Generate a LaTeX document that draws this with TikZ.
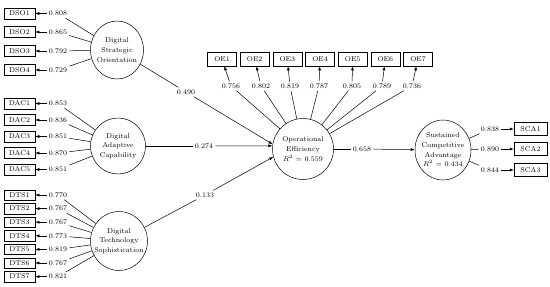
\documentclass[tikz,border=0pt]{standalone}
\usetikzlibrary{shapes.geometric,arrows.meta}
\begin{document}
\begin{tikzpicture}[x=1pt,y=-1pt,font=\fontsize{7}{9.7}\selectfont,line width=0.5pt,
  ind/.style={draw,minimum width=31pt,minimum height=11pt,inner sep=0pt},
  lv/.style={draw,ellipse,inner sep=0pt},
  ld/.style={inner sep=2pt},
  arr/.style={-{Latex[length=4pt,width=3pt]}}]
\useasboundingbox (0,0) rectangle (550,287);

% latent variables
\node[lv,minimum width=53pt,minimum height=58pt,label={[align=center]center:Digital\\Strategic\\Orientation}] (DSO) at (117,50) {};
\node[lv,minimum width=55pt,minimum height=56pt,label={[align=center]center:Digital\\Adaptive\\Capability}] (DAC) at (118,146) {};
\node[lv,minimum width=57pt,minimum height=59pt,label={[align=center]center:Digital\\Technology\\Sophistication}] (DTS) at (119,241) {};
\node[lv,minimum width=61pt,minimum height=61pt,label={[align=center]center:Operational\\Efficiency\\$R^2$ = 0.559}] (OE) at (303,149) {};
\node[lv,minimum width=56pt,minimum height=60pt,label={[align=center]center:Sustained\\Competitive\\Advantage\\$R^2$ = 0.434}] (SCA) at (443,150) {};

% DSO indicators
\foreach \y/\v [count=\i] in {13.5/0.808,32/0.865,51/0.792,70/0.729}{
  \node[ind] (dso\i) at (19.5,\y) {DSO\i};
  \node[ld] (ldso\i) at (58,\y) {\v};
  \draw (DSO) -- (ldso\i);
  \draw[arr] (ldso\i) -- (dso\i);
}
% DAC indicators
\foreach \y/\v [count=\i] in {103.5/0.853,120/0.836,136.5/0.851,153/0.870,169.5/0.851}{
  \node[ind] (dac\i) at (19.5,\y) {DAC\i};
  \node[ld] (ldac\i) at (58,\y) {\v};
  \draw (DAC) -- (ldac\i);
  \draw[arr] (ldac\i) -- (dac\i);
}
% DTS indicators
\foreach \y/\v [count=\i] in {195/0.770,208.6/0.767,222.2/0.767,235.8/0.773,249.4/0.819,263/0.767,276.6/0.821}{
  \node[ind,minimum height=10.5pt] (dts\i) at (19.5,\y) {DTS\i};
  \node[ld] (ldts\i) at (58,\y) {\v};
  \draw (DTS) -- (ldts\i);
  \draw[arr] (ldts\i) -- (dts\i);
}
% OE indicators
\foreach \bx/\lx/\v [count=\i] in {222/231/0.756,254.7/261/0.802,287.3/290/0.819,320/319/0.787,352.7/352/0.805,385.3/382/0.789,418/412/0.736}{
  \node[ind,minimum width=29pt,minimum height=14pt] (oe\i) at (\bx,59) {OE\i};
  \node[ld] (loe\i) at (\lx,86) {\v};
  \draw (OE) -- (loe\i);
  \draw[arr] (loe\i) -- (oe\i);
}
% SCA indicators
\foreach \y/\v [count=\i] in {129/0.838,149/0.890,170/0.844}{
  \node[ind,minimum width=33pt,minimum height=13pt] (sca\i) at (530.5,\y) {SCA\i};
  \node[ld] (lsca\i) at (490,\y) {\v};
  \draw (SCA) -- (lsca\i);
  \draw[arr] (lsca\i) -- (sca\i);
}

% structural paths
\node[ld] (p490) at (186,92) {0.490};
\node[ld] (p274) at (204,146) {0.274};
\node[ld] (p133) at (205,195) {0.133};
\node[ld] (p658) at (362,149) {0.658};
\draw (DSO) -- (p490);
\draw[arr] (p490) -- (OE.171);
\draw (DAC) -- (p274);
\draw[arr] (p274) -- (OE.174);
\draw (DTS) -- (p133);
\draw[arr] (p133) -- (OE.195);
\draw (OE) -- (p658);
\draw[arr] (p658) -- (SCA);
\end{tikzpicture}
\end{document}
